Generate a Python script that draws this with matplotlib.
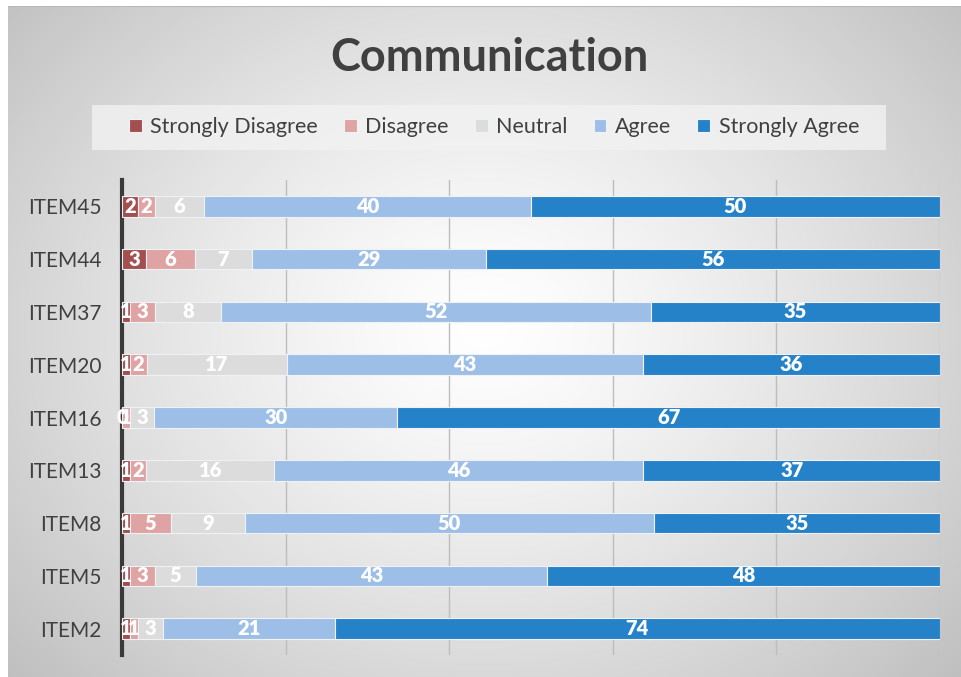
import numpy as np
import matplotlib
matplotlib.use('Agg')
import matplotlib.pyplot as plt
from matplotlib.patches import Rectangle

plt.rcParams['font.family'] = ['Lato', 'DejaVu Sans']

items = ['ITEM45', 'ITEM44', 'ITEM37', 'ITEM20', 'ITEM16', 'ITEM13', 'ITEM8', 'ITEM5', 'ITEM2']
strongly_disagree = [2, 3, 1, 1, 0, 1, 1, 1, 1]
disagree = [2, 6, 3, 2, 1, 2, 5, 3, 1]
neutral = [6, 7, 8, 17, 3, 16, 9, 5, 3]
agree = [40, 29, 52, 43, 30, 46, 50, 43, 21]
strongly_agree = [50, 56, 35, 36, 67, 37, 35, 48, 74]

series = [
    ('Strongly Disagree', strongly_disagree, '#a34e4f'),
    ('Disagree', disagree, '#e0a3a3'),
    ('Neutral', neutral, '#dcdcdc'),
    ('Agree', agree, '#9dbfe7'),
    ('Strongly Agree', strongly_agree, '#2581c8'),
]

W, H = 961, 677
fig = plt.figure(figsize=(W / 100, H / 100), dpi=100)
fig.patch.set_facecolor('white')

# radial grey background panel
bg = fig.add_axes([8 / W, 0, (W - 8) / W, (H - 6) / H])
yy, xx = np.mgrid[0:H - 6, 0:W - 8]
r = np.sqrt(((xx - 475) / 540) ** 2 + ((yy - 320) / 440) ** 2)
shade = np.clip(1.0 - 0.2 * r ** 1.3, 0, 1)
bg.imshow(np.dstack([shade] * 3), aspect='auto', extent=[0, 1, 0, 1])
bg.axis('off')
bg.plot([0, 1], [1, 1], color='#b8b8b8', lw=1.5, transform=bg.transAxes)

ax = fig.add_axes([122 / W, 22 / H, 818 / W, 475 / H])
ax.set_facecolor('none')

vals = np.array([s[1] for s in series], dtype=float)
pct = vals / vals.sum(axis=0) * 100
y = np.arange(len(items))
left = np.zeros(len(items))
for (name, raw, color), p in zip(series, pct):
    ax.barh(y, p, left=left, height=0.39, color=color, edgecolor='#eef2f6',
            linewidth=0.8, label=name, zorder=3)
    for yi, (l, w, v) in enumerate(zip(left, p, raw)):
        ax.text(l + w / 2, yi, str(v), ha='center', va='center', color='white',
                fontsize=14.5, fontweight='heavy', zorder=4)
    left += p

ax.set_xlim(0, 100)
ax.set_ylim(len(items) - 0.5, -0.5)
ax.set_yticks(y)
ax.set_yticklabels(items, fontsize=15, color='#404040')
ax.set_xticks([20, 40, 60, 80, 100])
ax.set_xticklabels([])
ax.tick_params(axis='x', length=0)
ax.tick_params(axis='y', length=0, pad=15)
ax.grid(axis='x', color='#bdbdbd', lw=1, zorder=0)
for side in ['top', 'right', 'bottom']:
    ax.spines[side].set_visible(False)
ax.spines['left'].set_color('#3a3a3a')
ax.spines['left'].set_linewidth(3)

fig.text(489 / W, 1 - 58 / H, 'Communication', ha='center', va='center',
         fontsize=32.5, fontweight='bold', color='#404040')

fig.patches.append(Rectangle((92 / W, 1 - 150 / H), 794 / W, 45 / H,
                             transform=fig.transFigure, facecolor='#f2f2f2',
                             edgecolor='none', alpha=0.8, zorder=1))
handles, labels = ax.get_legend_handles_labels()
leg = fig.legend(handles, labels, loc='center', bbox_to_anchor=(494 / W, 1 - 127 / H),
                 ncol=5, frameon=False, fontsize=15.5, handlelength=0.6,
                 handleheight=0.6, handletextpad=0.4, columnspacing=1.2)
for t in leg.get_texts():
    t.set_color('#404040')

fig.savefig('out.png', dpi=100)
